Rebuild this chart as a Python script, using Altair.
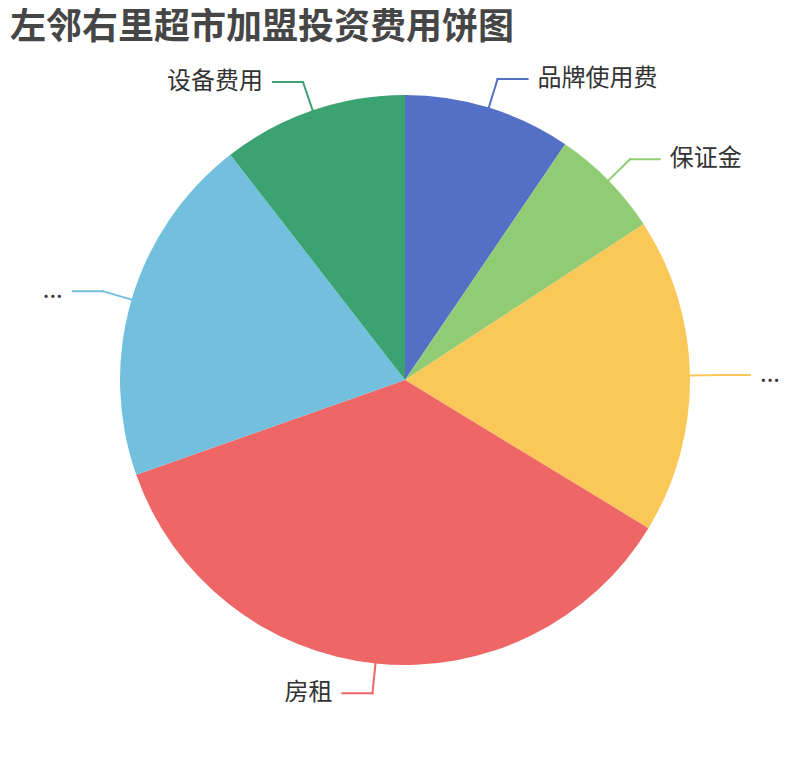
import altair as alt
import pandas as pd

categories = ["品牌使用费", "保证金", "装修费用", "房租", "首批进货费用", "设备费用"]
label_text = ["品牌使用费", "保证金", "...", "房租", "...", "设备费用"]
values = [9.5, 6.3, 17.9, 35.9, 19.9, 10.5]
colors = ["#5470c6", "#91cc75", "#fac858", "#ee6666", "#73c0de", "#3ba272"]

df = pd.DataFrame({
    "category": categories,
    "label": label_text,
    "value": values,
    "idx": list(range(len(values))),
})

W, H = 794, 660
CX, CY, R = W / 2, H / 2, 285
L1, L2, GAP = 30, 30, 10
FONT = "Noto Sans CJK SC"

color_scale = alt.Scale(domain=categories, range=colors)

pie = alt.Chart(df).mark_arc(outerRadius=R).encode(
    theta=alt.Theta("value:Q", stack=True),
    color=alt.Color("category:N", scale=color_scale, legend=None),
    order=alt.Order("idx:Q"),
)

geo = (
    alt.Chart(df)
    .transform_joinaggregate(total="sum(value)")
    .transform_window(cum="sum(value)", sort=[alt.SortField("idx")], frame=[None, 0])
    .transform_calculate(mid="(datum.cum - datum.value / 2) / datum.total * 2 * PI")
    .transform_calculate(
        x0=f"{CX} + {R} * sin(datum.mid)",
        y0=f"{CY} - {R} * cos(datum.mid)",
        x1=f"{CX} + {R + L1} * sin(datum.mid)",
        y1=f"{CY} - {R + L1} * cos(datum.mid)",
        side="sin(datum.mid) >= 0 ? 1 : -1",
    )
    .transform_calculate(
        x2=f"datum.x1 + {L2} * datum.side",
        xt=f"datum.x1 + {L2 + GAP} * datum.side",
    )
)

seg1 = geo.mark_rule(strokeWidth=2, strokeCap="square").encode(
    x=alt.X("x0:Q", scale=None, axis=None),
    y=alt.Y("y0:Q", scale=None, axis=None),
    x2="x1:Q",
    y2="y1:Q",
    color=alt.Color("category:N", scale=color_scale, legend=None),
)
seg2 = geo.mark_rule(strokeWidth=2, strokeCap="square").encode(
    x=alt.X("x1:Q", scale=None, axis=None),
    y=alt.Y("y1:Q", scale=None, axis=None),
    x2="x2:Q",
    y2="y1:Q",
    color=alt.Color("category:N", scale=color_scale, legend=None),
)

text_right = geo.transform_filter("datum.side > 0").mark_text(
    align="left", baseline="middle", fontSize=24, font=FONT, color="#333333"
).encode(
    x=alt.X("xt:Q", scale=None, axis=None),
    y=alt.Y("y1:Q", scale=None, axis=None),
    text="label:N",
)
text_left = geo.transform_filter("datum.side < 0").mark_text(
    align="right", baseline="middle", fontSize=24, font=FONT, color="#333333"
).encode(
    x=alt.X("xt:Q", scale=None, axis=None),
    y=alt.Y("y1:Q", scale=None, axis=None),
    text="label:N",
)

chart = alt.layer(pie, seg1, seg2, text_right, text_left).properties(
    width=W,
    height=H,
    title=alt.TitleParams(
        "左邻右里超市加盟投资费用饼图",
        anchor="start",
        frame="group",
        fontSize=36,
        font=FONT,
        fontWeight="bold",
        color="#464646",
        offset=3,
        dx=2,
    ),
    autosize=alt.AutoSizeParams(type="none"),
    padding={"top": 42, "left": 0, "right": 0, "bottom": 0},
).configure_view(stroke=None)

chart.save("out.html", embed_options={"renderer": "svg", "actions": False})
